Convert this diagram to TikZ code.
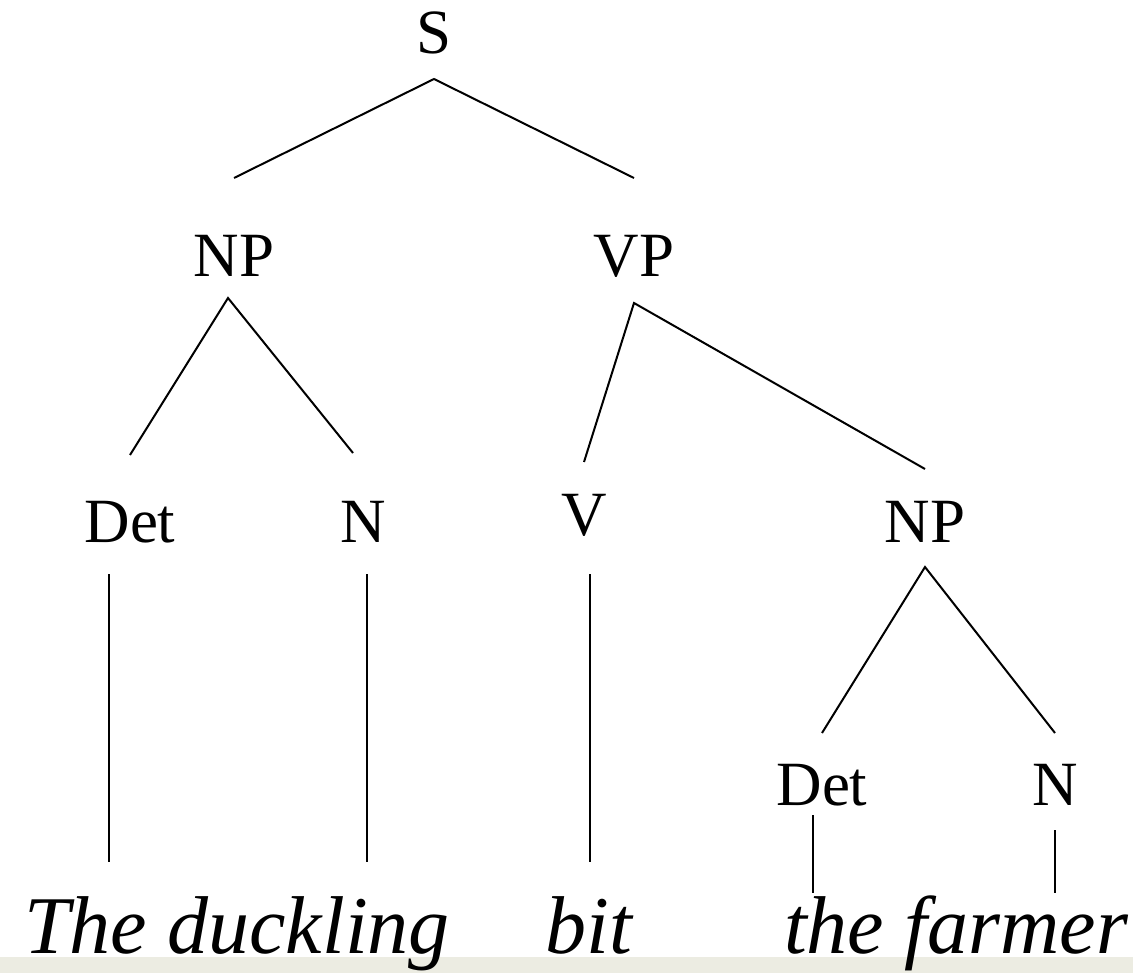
\documentclass[tikz,border=0pt]{standalone}
\usepackage{fontspec}
\setmainfont{Liberation Serif}
\definecolor{barfill}{RGB}{236,236,226}
\newcommand{\catsize}{\fontsize{31.5pt}{38pt}\selectfont}
\newcommand{\wordsize}{\fontsize{41pt}{49pt}\selectfont\itshape}
\tikzset{
  cat/.style 2 args={font=\catsize, anchor=base, inner sep=0pt, outer sep=0pt,
    text height=#1, text depth=#2},
  word/.style={font=\wordsize, anchor=base, inner sep=0pt, outer sep=0pt,
    text height=#1, text depth=0pt},
  branch/.style={line width=1pt},
}

\begin{document}
\begin{tikzpicture}[x=0.5pt, y=-0.5pt]
	\path[use as bounding box, fill=white] (0,0) rectangle (1136,973);
	\fill[barfill] (0,957) rectangle (1133,973);
	% categories, set on their baselines
	\node[cat={0pt}{12.5pt}]      (s)    at (434,54)  {S};
	\node[cat={49.5pt}{10.5pt}]   (np)   at (234,277) {NP};
	\node[cat={49.5pt}{13pt}]     (vp)   at (634,277) {VP};
	\node[cat={43.5pt}{16pt}]     (det)  at (130,542) {Det};
	\node[cat={44.5pt}{16pt}]     (n)    at (363,542) {N};
	\node[cat={36.5pt}{19.5pt}]   (v)    at (584,535) {V};
	\node[cat={36.5pt}{12.5pt}]   (np2)  at (925,542) {NP};
	\node[cat={36pt}{5pt}]        (det2) at (822,805) {Det};
	\node[cat={36pt}{12.5pt}]     (n2)   at (1055,805) {N};
	% the sentence
	\node[word=45.5pt] (duck)   at (237,953) {The duckling};
	\node[word=45.5pt] (bit)    at (589,953) {bit};
	\node[word=30pt]   (farmer) at (956,953) {the farmer};
	% branches
	\draw[branch] (np.north) -- (s.south) -- (vp.north);
	\draw[branch] (det.north) -- ([xshift=-3pt]np.south) -- ([xshift=-5pt]n.north);
	\draw[branch] (v.north) -- (vp.south) -- (np2.north);
	\draw[branch] (det2.north) -- (np2.south) -- (n2.north);
	% lexical links
	\draw[branch] ([xshift=-10.5pt]det.south) -- ([xshift=-10.5pt]det.south |- duck.north);
	\draw[branch] ([xshift=2pt]n.south) -- ([xshift=2pt]n.south |- duck.north);
	\draw[branch] ([xshift=3pt]v.south) -- ([xshift=3pt]v.south |- bit.north);
	\draw[branch] ([xshift=-4.5pt]det2.south) -- ([xshift=-4.5pt]det2.south |- farmer.north);
	\draw[branch] (n2.south) -- (n2.south |- farmer.north);
\end{tikzpicture}
\end{document}
